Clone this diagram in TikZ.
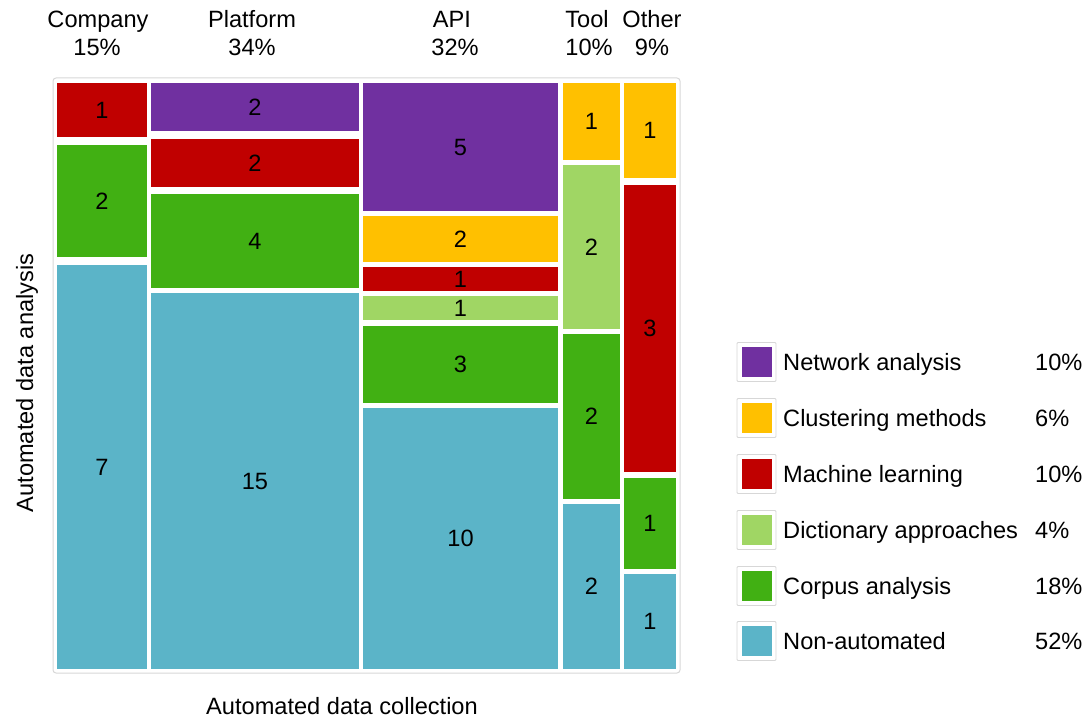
\documentclass[tikz,border=0pt]{standalone}
\usepackage{fontspec}
\setmainfont{Liberation Sans}
\usetikzlibrary{calc}
\definecolor{cpurple}{RGB}{112,48,160}
\definecolor{cyellow}{RGB}{255,192,0}
\definecolor{cred}{RGB}{192,0,0}
\definecolor{clgreen}{RGB}{160,214,100}
\definecolor{cgreen}{RGB}{65,176,19}
\definecolor{cblue}{RGB}{91,180,200}
\definecolor{cframe}{RGB}{215,215,215}
\newcommand{\mcell}[7]{%
  \fill[#6] (#2,#3) rectangle (#4,#5);
  \node[celltext] (#1) at ($(#2,#3)!0.5!(#4,#5)$) {#7};}
\newcommand{\legrow}[5]{%
  \node[legframe] (#1f) at (756.5,#3) {};
  \node[legsq, fill=#2] (#1) at (#1f.center) {};
  \node[legtext] (#1t) at (783,#3+8.5) {#4};
  \node[legtext] (#1p) at (1035,#3+8.5) {#5};}
\begin{document}
\begin{tikzpicture}[x=1pt,y=-1pt,
  every node/.style={font=\fontsize{23.6}{28}\selectfont, inner sep=0pt},
  celltext/.style={anchor=center},
  hdr/.style={anchor=base},
  legtext/.style={anchor=base west},
  legframe/.style={draw=cframe, line width=0.8pt, fill=white, minimum width=39pt, minimum height=39pt, rounded corners=1pt},
  legsq/.style={minimum width=30pt, minimum height=30pt}]
\useasboundingbox (0,0) rectangle (1086,719);
% frame
\draw[cframe, line width=1pt, rounded corners=3pt] (53,78) rectangle (680,673);
% Company
\mcell{co1}{57}{83}{147}{137}{cred}{1}
\mcell{co2}{57}{145}{147}{257}{cgreen}{2}
\mcell{co3}{57}{265}{147}{669}{cblue}{7}
% Platform
\mcell{pl1}{151}{83}{359}{131}{cpurple}{2}
\mcell{pl2}{151}{139}{359}{187}{cred}{2}
\mcell{pl3}{151}{194}{359}{288}{cgreen}{4}
\mcell{pl4}{151}{293}{359}{669}{cblue}{15}
% API
\mcell{ap1}{363}{83}{558}{211}{cpurple}{5}
\mcell{ap2}{363}{216}{558}{262}{cyellow}{2}
\mcell{ap3}{363}{267}{558}{291}{cred}{1}
\mcell{ap4}{363}{296}{558}{320}{clgreen}{1}
\mcell{ap5}{363}{326}{558}{403}{cgreen}{3}
\mcell{ap6}{363}{408}{558}{669}{cblue}{10}
% Tool
\mcell{to1}{563}{83}{620}{160}{cyellow}{1}
\mcell{to2}{563}{165}{620}{329}{clgreen}{2}
\mcell{to3}{563}{334}{620}{499}{cgreen}{2}
\mcell{to4}{563}{504}{620}{669}{cblue}{2}
% Other
\mcell{ot1}{624}{83}{676}{178}{cyellow}{1}
\mcell{ot2}{624}{185}{676}{472}{cred}{3}
\mcell{ot3}{624}{478}{676}{569}{cgreen}{1}
\mcell{ot4}{624}{574}{676}{669}{cblue}{1}
% headers
\node[hdr] (h1) at (98,27.5) {Company};
\node[hdr] (h1p) at (97,55.5) {15\%};
\node[hdr] (h2) at (252,27.5) {Platform};
\node[hdr] (h2p) at (252,55.5) {34\%};
\node[hdr] (h3) at (452,27.5) {API};
\node[hdr] (h3p) at (455,55.5) {32\%};
\node[hdr] (h4) at (587,27.5) {Tool};
\node[hdr] (h4p) at (589,55.5) {10\%};
\node[hdr] (h5) at (652,27.5) {Other};
\node[hdr] (h5p) at (652,55.5) {9\%};
% axis labels
\node[anchor=base] (xl) at (342,714) {Automated data collection};
\node[anchor=base, rotate=90] (yl) at (33,383) {Automated data analysis};
% legend
\legrow{l1}{cpurple}{362}{Network analysis}{10\%}
\legrow{l2}{cyellow}{418}{Clustering methods}{6\%}
\legrow{l3}{cred}{474}{Machine learning}{10\%}
\legrow{l4}{clgreen}{530}{Dictionary approaches}{4\%}
\legrow{l5}{cgreen}{586}{Corpus analysis}{18\%}
\legrow{l6}{cblue}{641}{Non-automated}{52\%}
\end{tikzpicture}
\end{document}
